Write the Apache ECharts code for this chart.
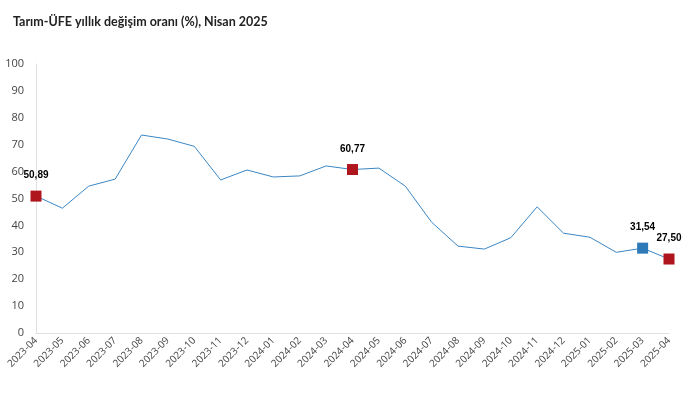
<!DOCTYPE html>
<html><head><meta charset="utf-8">
<script src="https://cdn.jsdelivr.net/npm/echarts@6/dist/echarts.min.js"></script>
<style>html,body{margin:0;padding:0;background:#fff}#c{width:696px;height:394px}</style>
</head><body><div id="c"></div>
<script>
const categories = ['2023-04','2023-05','2023-06','2023-07','2023-08','2023-09','2023-10','2023-11','2023-12','2024-01','2024-02','2024-03','2024-04','2024-05','2024-06','2024-07','2024-08','2024-09','2024-10','2024-11','2024-12','2025-01','2025-02','2025-03','2025-04'];
const values = [50.89,46.4,54.6,57.2,73.6,72.1,69.4,56.9,60.6,58.0,58.4,62.1,60.77,61.3,54.6,41.2,32.3,31.2,35.4,46.9,37.1,35.6,30.0,31.54,27.50];
const redPoints = ['2023-04','2024-04','2025-04'];
const bluePoints = ['2025-03'];
const yTicks = {min:0, max:100, interval:10};

const ptData = list => list.map(c => [c, values[categories.indexOf(c)]]);
const fmt = p => p.value[1].toFixed(2).replace('.', ',');
const lbl = {show:true, position:'top', distance:10, formatter:fmt, color:'#000', fontWeight:'bold', fontSize:10, fontFamily:'Liberation Sans, Arial, sans-serif'};

const chart = echarts.init(document.getElementById('c'), null, {renderer:'canvas'});
chart.setOption({
  animation:false,
  title:{text:'Tarım-ÜFE yıllık değişim oranı (%), Nisan 2025', left:8, top:10,
    textStyle:{fontSize:12.5, fontWeight:'bold', color:'#222', fontFamily:'Lato, sans-serif'}},
  grid:{left:36, right:27, top:64, bottom:61},
  xAxis:{type:'category', data:categories, boundaryGap:false,
    axisLine:{lineStyle:{color:'#e0e0e0'}}, axisTick:{show:false},
    axisLabel:{rotate:45, fontSize:10, color:'#444', margin:6, interval:0, fontFamily:'Open Sans, sans-serif'}},
  yAxis:{type:'value', min:yTicks.min, max:yTicks.max, interval:yTicks.interval,
    axisLine:{show:true, lineStyle:{color:'#e0e0e0'}}, axisTick:{show:false}, splitLine:{show:false},
    axisLabel:{fontSize:11, color:'#444', margin:12, fontFamily:'Open Sans, sans-serif'}},
  series:[
    {type:'line', data:values, symbol:'none', lineStyle:{color:'#3a86c4', width:1}, z:2},
    {type:'scatter', data:ptData(redPoints), symbol:'rect', symbolSize:11, itemStyle:{color:'#ae151d', opacity:1}, label:lbl, z:3},
    {type:'scatter', data:ptData(bluePoints), symbol:'rect', symbolSize:11, itemStyle:{color:'#2e7ab8', opacity:1}, label:lbl, z:3}
  ]
});
</script></body></html>
